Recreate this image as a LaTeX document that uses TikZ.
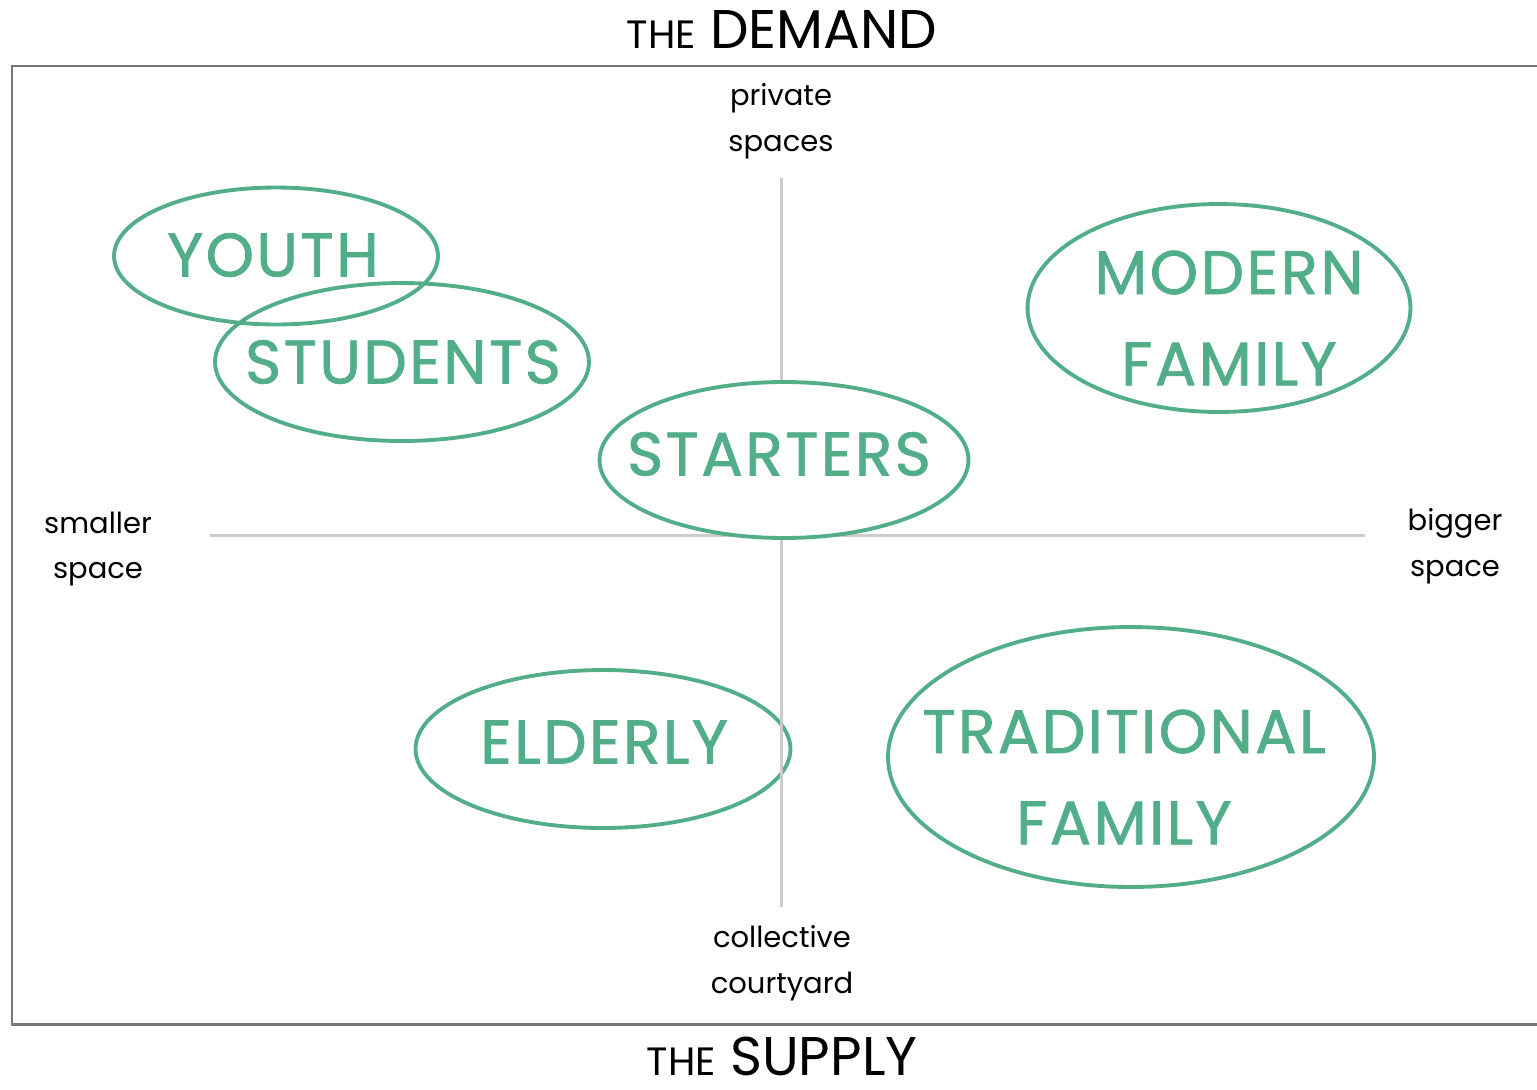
\documentclass[tikz,border=0pt]{standalone}
\usepackage{fontspec}
\setmainfont{Poppins}
\newfontfamily\groupfont[LetterSpace=4,FakeBold=1.2]{Poppins}
\usetikzlibrary{shapes.geometric}
\definecolor{groupgreen}{HTML}{52AE88}
\definecolor{framegray}{HTML}{777777}
\definecolor{axisgray}{HTML}{CCCCCC}
\begin{document}
\begin{tikzpicture}[
        x=0.02cm, y=-0.02cm,
        group/.style={ellipse, draw=groupgreen, line width=2.2pt, inner sep=0pt},
        grouptext/.style={text=groupgreen, align=center, font=\groupfont\fontsize{35}{52}\selectfont},
        axis/.style={draw=axisgray, line width=1.7pt},
        label/.style={align=center, font=\fontsize{16.5}{26}\selectfont},
        title/.style={anchor=base, inner sep=0pt, text depth=0pt, font=\fontsize{31}{36}\selectfont}
    ]
    \useasboundingbox (0,0) rectangle (1537,1089);
    \draw[framegray, line width=1.7pt] (1560,66) -- (12,66) -- (12,1024) -- (1560,1024);

    \node[title] (demand) at (782,48) {{\fontsize{22.5}{26}\selectfont THE} DEMAND};
    \node[title] (supply) at (782,1075) {{\fontsize{22.5}{26}\selectfont THE} SUPPLY};

    % axis end labels
    \node[label] (private) at (781,121) {private\\spaces};
    \node[label] (collective) at (782,963) {collective\\courtyard};
    \node[label] (smaller) at (98,549) {smaller\\space};
    \node[label] (bigger) at (1455,546) {bigger\\space};

    % target groups
    \node[group, minimum width=6.48cm, minimum height=2.74cm] (youth) at (276,256) {};
    \node[group, minimum width=7.48cm, minimum height=3.16cm] (students) at (402,362) {};
    \node[group, minimum width=7.66cm, minimum height=4.16cm] (modern) at (1219,308) {};
    \node[group, minimum width=7.5cm, minimum height=3.16cm] (elderly) at (603,749) {};
    \node[group, minimum width=9.72cm, minimum height=5.2cm] (traditional) at (1131,757) {};

    \coordinate (top) at (781,178);
    \coordinate (bottom) at (781,907);
    \coordinate (left) at (210,535);
    \coordinate (right) at (1365,535);
    \draw[axis] (top) -- (bottom);
    \draw[axis] (left) -- (right);

    \node[group, fill=white, minimum width=7.38cm, minimum height=3.12cm] (starters) at (784,460) {};

    \node[grouptext] (youth-text) at (273,255) {YOUTH};
    \node[grouptext] (students-text) at (403,362) {STUDENTS};
    \node[grouptext] (starters-text) at (779,454) {STARTERS};
    \node[grouptext] (modern-text) at (1229,318) {MODERN\\FAMILY};
    \node[grouptext] (elderly-text) at (604,742) {ELDERLY};
    \node[grouptext] (traditional-text) at (1124,777) {TRADITIONAL\\FAMILY};
\end{tikzpicture}
\end{document}
